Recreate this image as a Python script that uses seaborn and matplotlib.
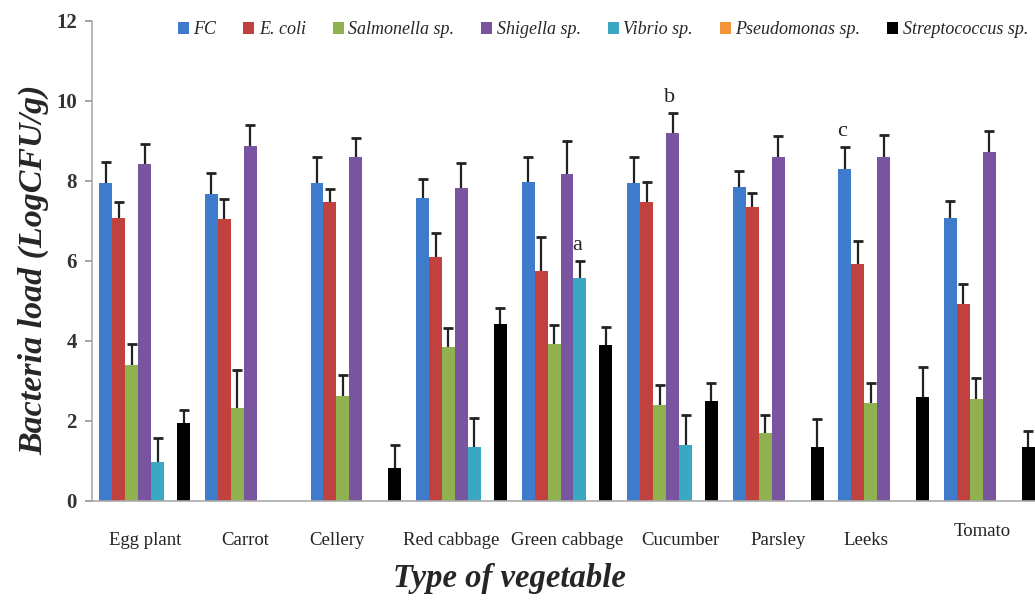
"""
Bacteria load per vegetable type, grouped bars with one-sided error bars.
"""

import matplotlib.pyplot as plt
import matplotlib.transforms as mtransforms
import pandas as pd
import seaborn as sns


VEGETABLES = ["Egg plant", "Carrot", "Cellery", "Red cabbage", "Green cabbage",
              "Cucumber", "Parsley", "Leeks", "Tomato"]
ORGANISMS = ["FC", "E. coli", "Salmonella sp.", "Shigella sp.", "Vibrio sp.",
             "Pseudomonas sp.", "Streptococcus sp."]
COLORS = ["#3f7bcb", "#c0413d", "#8fb24f", "#7a559f", "#3aa8c1", "#f39238", "#000000"]

FC = [7.95, 7.67, 7.96, 7.58, 7.97, 7.94, 7.86, 8.29, 7.07]
FC_ERR = [0.53, 0.53, 0.64, 0.46, 0.63, 0.65, 0.40, 0.57, 0.44]
ECOLI = [7.07, 7.05, 7.48, 6.10, 5.75, 7.48, 7.34, 5.92, 4.92]
ECOLI_ERR = [0.40, 0.50, 0.32, 0.60, 0.85, 0.50, 0.35, 0.59, 0.50]
SALMONELLA = [3.40, 2.33, 2.63, 3.85, 3.93, 2.40, 1.69, 2.46, 2.54]
SALMONELLA_ERR = [0.52, 0.94, 0.52, 0.47, 0.47, 0.50, 0.46, 0.50, 0.54]
SHIGELLA = [8.43, 8.87, 8.61, 7.83, 8.17, 9.21, 8.59, 8.59, 8.73]
SHIGELLA_ERR = [0.50, 0.53, 0.47, 0.63, 0.83, 0.48, 0.53, 0.56, 0.52]
VIBRIO = [0.97, 0.0, 0.0, 1.36, 5.57, 1.40, 0.0, 0.0, 0.0]
VIBRIO_ERR = [0.60, 0.0, 0.0, 0.72, 0.43, 0.75, 0.0, 0.0, 0.0]
PSEUDOMONAS = [0.0, 0.0, 0.0, 0.0, 0.0, 0.0, 0.0, 0.0, 0.0]
PSEUDOMONAS_ERR = [0.0, 0.0, 0.0, 0.0, 0.0, 0.0, 0.0, 0.0, 0.0]
STREP = [1.94, 0.0, 0.83, 4.43, 3.90, 2.50, 1.36, 2.59, 1.36]
STREP_ERR = [0.33, 0.0, 0.57, 0.40, 0.46, 0.46, 0.68, 0.77, 0.40]

# letters written above some bars: (vegetable, organism, letter)
MARKS = [("Green cabbage", "Vibrio sp.", "a"), ("Cucumber", "Shigella sp.", "b"),
         ("Leeks", "FC", "c")]

# the category labels in the original were placed by hand (pixel shifts x, y)
LABEL_SHIFT = [(0, 0), (-5, 0), (-19, 0), (-10, 0), (0, 0), (8, 0), (0, 0), (-18, 0), (-7, 9)]


def build_frame() -> pd.DataFrame:
    values = [FC, ECOLI, SALMONELLA, SHIGELLA, VIBRIO, PSEUDOMONAS, STREP]
    errors = [FC_ERR, ECOLI_ERR, SALMONELLA_ERR, SHIGELLA_ERR, VIBRIO_ERR,
              PSEUDOMONAS_ERR, STREP_ERR]
    rows = []
    for org, vals, errs in zip(ORGANISMS, values, errors):
        for veg, v, e in zip(VEGETABLES, vals, errs):
            rows.append({"Vegetable": veg, "Organism": org, "Load": v, "Err": e})
    return pd.DataFrame(rows)


def main() -> None:
    sns.set_theme(style="white")
    plt.rcParams["font.family"] = ["Liberation Serif", "DejaVu Serif"]
    df = build_frame()

    fig = plt.figure(figsize=(10.35, 6.02), dpi=100)
    ax = fig.add_axes([92 / 1035, 101 / 602, 950 / 1035, 480 / 602])

    sns.barplot(data=df, x="Vegetable", y="Load", hue="Organism", order=VEGETABLES,
                hue_order=ORGANISMS, palette=COLORS, width=0.86, saturation=1,
                linewidth=0, errorbar=None, ax=ax)

    # one-sided error bars on top of every non-empty bar (no cap at the bar top)
    for org, container in zip(ORGANISMS, ax.containers):
        sub = df[df["Organism"] == org].set_index("Vegetable").loc[VEGETABLES]
        for bar, (veg, row) in zip(container, sub.iterrows()):
            if row["Load"] <= 0:
                continue
            xc = bar.get_x() + bar.get_width() / 2
            _, caps, _ = ax.errorbar(xc, row["Load"], yerr=[[0], [row["Err"]]],
                                     fmt="none", ecolor="#222222", elinewidth=1.6,
                                     capsize=3.5, capthick=2.0, zorder=3)
            caps[0].set_visible(False)

    for veg, org, letter in MARKS:
        container = ax.containers[ORGANISMS.index(org)]
        bar = container[VEGETABLES.index(veg)]
        row = df[(df["Vegetable"] == veg) & (df["Organism"] == org)].iloc[0]
        ax.text(bar.get_x() + bar.get_width() / 2 - 0.03, row["Load"] + row["Err"] + 0.15,
                letter, ha="center", va="bottom", fontsize=16, color="#222222")

    ax.set_ylim(0, 12)
    ax.set_xlim(-0.5, 8.5)
    ax.set_yticks(range(0, 13, 2))
    ax.set_yticklabels([str(t) for t in range(0, 13, 2)], fontsize=15,
                       fontweight="bold", color="#333333")
    ax.set_xticks(range(len(VEGETABLES)))
    ax.set_xticklabels(VEGETABLES, fontsize=13.5, color="#222222")
    ax.set_xticks([i - 0.5 for i in range(len(VEGETABLES) + 1)], minor=True)
    ax.tick_params(axis="x", which="major", length=0, pad=22)
    ax.tick_params(axis="x", which="minor", length=4, color="#999999", direction="out")
    ax.tick_params(axis="y", length=5, color="#999999", direction="out", left=True, pad=6)
    # shift after tick_params, which would otherwise reset the transforms
    for label, (dx, dy) in zip(ax.get_xticklabels(), LABEL_SHIFT):
        label.set_transform(label.get_transform() + mtransforms.ScaledTranslation(
            dx / 100, dy / 100, fig.dpi_scale_trans))

    for side in ["top", "right"]:
        ax.spines[side].set_visible(False)
    for side in ["left", "bottom"]:
        ax.spines[side].set_color("#aaaaaa")
        ax.spines[side].set_linewidth(1.2)

    ax.set_xlabel("Type of vegetable", fontsize=23.5, fontweight="bold",
                  fontstyle="italic", va="center")
    ax.xaxis.set_label_coords((509 - 92) / 950, -77 / 480)
    ax.set_ylabel("Bacteria load (LogCFU/g)", fontsize=24.5, fontweight="bold",
                  fontstyle="italic", va="center")
    ax.yaxis.set_label_coords(-58 / 950, 231 / 480)

    sns.move_legend(ax, "center", bbox_to_anchor=(603 / 1035, 1 - 30 / 602),
                    bbox_transform=fig.transFigure, ncol=7, frameon=False, title=None,
                    prop={"family": "Liberation Serif", "style": "italic", "size": 13},
                    handlelength=0.6, handleheight=0.6, handletextpad=0.25,
                    columnspacing=1.5)

    fig.savefig("out.png", dpi=100)
    plt.close(fig)


if __name__ == "__main__":
    main()
